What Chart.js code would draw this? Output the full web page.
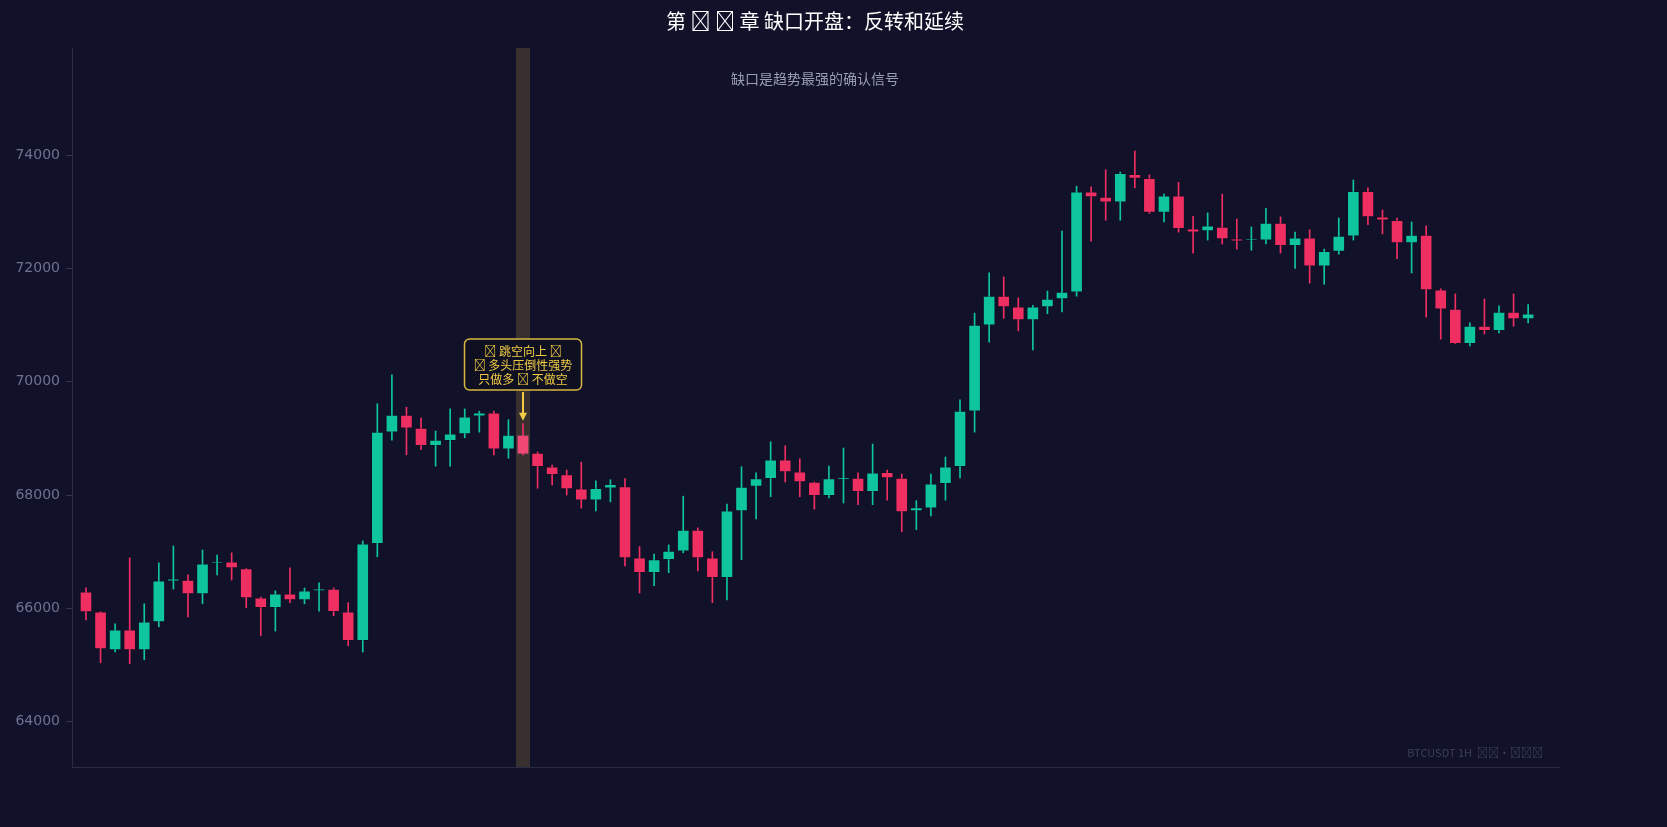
<!DOCTYPE html>
<html><head><meta charset="utf-8">
<script src="https://cdn.jsdelivr.net/npm/chart.js@4.4.1/dist/chart.umd.min.js"></script>
<style>html,body{margin:0;padding:0;background:#11122a;}#c{display:block;}</style>
</head><body>
<div style="width:1667px;height:827px;position:relative"><canvas id="c"></canvas></div>
<script>
const opens  = [66291,65939,65268,65621,65268,65762,66480,66500,66256,66790,66820,66700,66185,66010,66256,66150,66310,66340,65940,65430,67140,69110,69410,69180,68870,68960,69080,69390,69450,68810,69060,68740,68500,68360,68110,67910,68120,68150,66890,66630,66860,67010,67380,66890,66540,67720,68150,68290,68620,68410,68230,67990,68280,68300,68060,68400,68300,67720,67770,68200,68500,69480,71000,71510,71320,71090,71320,71460,71580,73350,73260,73170,73660,73590,72990,73280,72700,72660,72730,72520,72490,72500,72800,72400,72540,72040,72300,72570,73360,72910,72850,72450,72590,71620,71280,70670,70980,70900,71230,71110];
const closes = [65939,65286,65621,65268,65762,66485,66520,66256,66785,66820,66715,66185,66010,66256,66150,66310,66340,65940,65430,67140,69110,69410,69180,68870,68970,69080,69380,69450,68810,69060,68720,68500,68360,68110,67910,68120,68190,66890,66630,66860,67010,67380,66890,66540,67720,68140,68290,68620,68410,68230,67990,68290,68300,68060,68390,68300,67700,67780,68200,68500,69480,71000,71510,71320,71090,71320,71460,71580,73350,73260,73170,73680,73590,72990,73280,72700,72640,72750,72520,72480,72520,72800,72400,72540,72040,72300,72570,73360,72910,72850,72450,72590,71620,71280,70670,70980,70900,71230,71110,71200];
const highs  = [66362,65939,65727,66891,66080,66803,67100,66590,67030,66940,66980,66700,66200,66310,66715,66360,66450,66360,66100,67190,69610,70120,69550,69360,69130,69520,69520,69480,69480,69330,69260,68760,68530,68440,68580,68250,68270,68290,67090,66960,67120,67980,67420,67000,67840,68500,68390,68940,68870,68640,68230,68510,68830,68390,68900,68440,68370,67900,68370,68670,69680,71210,71920,71850,71480,71350,71600,72660,73450,73440,73740,73700,74070,73650,73310,73520,72920,72980,73310,72870,72730,73060,72910,72640,72680,72340,72890,73560,73420,73030,72890,72820,72750,71640,71550,71040,71460,71340,71550,71360];
const lows   = [65797,65039,65233,65021,65092,65674,66340,65850,66080,66590,66500,66010,65515,65600,66100,66080,65950,65870,65340,65230,66910,68970,68710,68800,68510,68510,69010,69110,68710,68650,68710,68120,68180,68000,67770,67720,67880,66750,66270,66400,66630,66980,66660,66100,66150,66860,67580,67970,68230,67970,67750,67950,67860,67830,67830,67910,67350,67390,67630,67910,68300,69110,70700,71120,70900,70560,71200,71230,71510,72480,72850,72850,73420,72970,72820,72640,72270,72500,72430,72340,72320,72430,72270,72000,71740,71720,72250,72500,72770,72610,72170,71920,71140,70750,70670,70630,70840,70860,70980,71040];
const yTicks = [64000,66000,68000,70000,72000,74000];
const gapIndex = 30;
const titleText = "第 \uE001 \uE002 章 缺口开盘：反转和延续";
const subtitleText = "缺口是趋势最强的确认信号";
const noteLines = ["\uE003 跳空向上 \uE003","\uE004 多头压倒性强势","只做多 \uE005 不做空"];
const watermark = "BTCUSDT 1H  \uE006\uE006·\uE006\uE006\uE006";

const UP="#0ec59e", DN="#ef2e62";
const idx = opens.map((_,i)=>i);
const col = idx.map(i=>closes[i]>=opens[i]?UP:DN);
const wicks = idx.map(i=>({x:i,y:[lows[i],highs[i]]}));
const bodies = idx.map(i=>({x:i,y:[Math.min(opens[i],closes[i]),Math.max(opens[i],closes[i])]}));
const FONT="'Noto Sans CJK SC','Noto Sans',sans-serif";

const deco = {
  id:'deco',
  beforeDatasetsDraw(ch){
    const c=ch.ctx, xs=ch.scales.x, a=ch.chartArea;
    const xc=xs.getPixelForValue(gapIndex);
    c.save(); c.fillStyle="#37302e"; c.fillRect(xc-7,a.top,14,a.bottom-a.top); c.restore();
  },
  afterDatasetsDraw(ch){
    const c=ch.ctx, xs=ch.scales.x, ys=ch.scales.y;
    const xc=xs.getPixelForValue(gapIndex);
    c.save();
    const t=ys.getPixelForValue(Math.max(opens[gapIndex],closes[gapIndex])), b=ys.getPixelForValue(Math.min(opens[gapIndex],closes[gapIndex]));
    c.fillStyle="rgba(255,255,255,0.12)"; c.fillRect(xc-6,t,12,b-t);
    const bw=117,bh=51,bx=xc-bw/2,by=339;
    c.beginPath(); c.roundRect(bx,by,bw,bh,5);
    c.fillStyle="#0f0f22"; c.fill(); c.lineWidth=1.5; c.strokeStyle="#d9b640"; c.stroke();
    c.fillStyle="#f2cc45"; c.font="12px "+FONT; c.textAlign="center"; c.textBaseline="middle";
    noteLines.forEach((s,k)=>c.fillText(s,xc,by+12+k*14));
    const yTip=ys.getPixelForValue(highs[gapIndex])-3;
    c.strokeStyle="#f2cc45"; c.lineWidth=2; c.beginPath(); c.moveTo(xc,by+bh+2); c.lineTo(xc,yTip-6); c.stroke();
    c.fillStyle="#f2cc45"; c.beginPath(); c.moveTo(xc-4,yTip-8); c.lineTo(xc+4,yTip-8); c.lineTo(xc,yTip); c.closePath(); c.fill();
    c.fillStyle="#ffffff"; c.font="20px "+FONT; c.fillText(titleText,815,21);
    c.fillStyle="#9a9cb4"; c.font="14px "+FONT; c.fillText(subtitleText,815,79);
    c.fillStyle="#3c3f5a"; c.font="11px "+FONT; c.textAlign="right"; c.fillText(watermark,1543,753);
    c.restore();
  }
};

new Chart(document.getElementById('c'),{
  type:'bar',
  data:{datasets:[
    {data:wicks,backgroundColor:col,barThickness:1,grouped:false,order:2},
    {data:bodies,backgroundColor:col,borderColor:"rgba(0,0,0,0.15)",borderWidth:1,borderSkipped:false,barThickness:12,grouped:false,order:1}
  ]},
  options:{
    responsive:true,maintainAspectRatio:false,animation:false,
    layout:{padding:{top:48,right:117,bottom:60,left:0}},
    plugins:{legend:{display:false},tooltip:{enabled:false},title:{display:false}},
    scales:{
      x:{type:'linear',offset:false,min:-0.96,max:100.5,display:false,bounds:'ticks'},
      y:{min:63200,max:75890,
        afterFit(s){s.width=72;},
        afterBuildTicks(s){s.ticks=yTicks.map(v=>({value:v}));},
        ticks:{color:"#6e7190",font:{size:14,family:"'DejaVu Sans',sans-serif"},padding:6,callback:v=>String(v)},
        grid:{drawOnChartArea:false,color:"#34364f",tickLength:6},
        border:{color:"#2a2c45"}}
    }
  },
  plugins:[deco,{id:'bottomLine',afterDraw(ch){const c=ch.ctx,a=ch.chartArea;c.save();c.strokeStyle="#2a2c45";c.lineWidth=1;c.beginPath();c.moveTo(a.left,a.bottom+0.5);c.lineTo(a.right+10,a.bottom+0.5);c.stroke();c.restore();}}]
});
</script>
</body></html>
